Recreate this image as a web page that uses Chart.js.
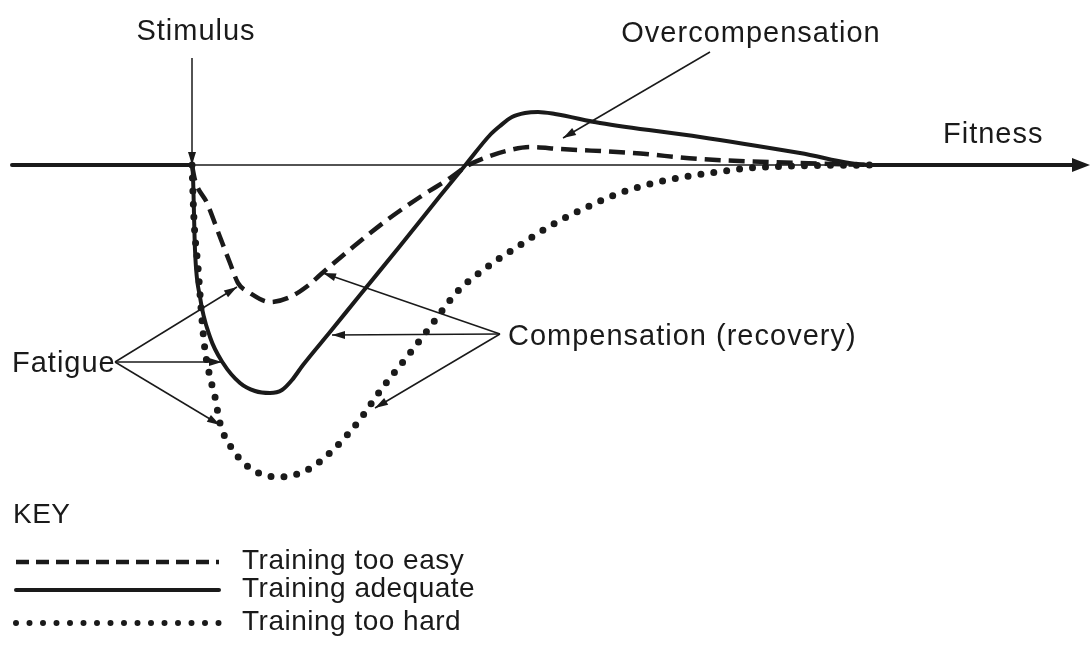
<!DOCTYPE html>
<html>
<head>
<meta charset="utf-8">
<script src="https://cdn.jsdelivr.net/npm/chart.js@4/dist/chart.umd.min.js"></script>
<style>
  html, body { margin: 0; padding: 0; background: #fff; }
  #wrap { width: 1092px; height: 646px; }
</style>
</head>
<body>
<div id="wrap"><canvas id="fitnessChart" width="1092" height="646"></canvas></div>
<script>
// --- data: x = time (arbitrary units), y = fitness relative to the starting level ---
const seriesNames = ['Training adequate', 'Training too easy', 'Training too hard'];

const trainingAdequate = [
    [1.2, 0], [19.2, 0], [19.3, -1.2], [19.5, -8.5], [20.0, -13.2], [21.0, -17.2],
    [22.3, -19.8], [24.0, -21.8], [25.5, -22.6], [27.0, -22.8], [28.2, -22.5],
    [29.2, -21.5], [30.3, -20.0], [33.0, -16.7], [36.0, -13.0], [40.0, -8.1],
    [44.0, -3.1], [46.7, 0.2], [49.0, 3.0], [50.0, 3.9], [51.2, 4.8], [52.5, 5.2],
    [53.8, 5.3], [55.5, 5.1], [60.0, 4.2], [70.0, 2.8], [80.0, 1.2], [87.0, 0], [108.0, 0]
];

const trainingTooEasy = [
    [19.2, 0], [19.5, -1.5], [20.7, -3.8], [22.0, -7.2], [23.0, -9.8], [23.8, -11.8],
    [25.0, -12.8], [27.0, -13.7], [29.0, -13.2], [31.0, -11.9], [32.0, -11.0],
    [35.3, -8.2], [38.7, -5.5], [42.0, -3.2], [45.0, -1.3], [46.7, -0.1], [48.7, 0.8],
    [51.0, 1.5], [53.0, 1.8], [56.0, 1.6], [63.3, 1.2], [70.0, 0.6], [80.0, 0.2], [87.0, 0]
];

const trainingTooHard = [
    [19.2, 0], [19.4, -5.5], [19.8, -10.2], [20.2, -15.5], [20.5, -18.5], [21.0, -21.2],
    [21.5, -23.2], [22.0, -25.8], [23.3, -28.5], [25.3, -30.5], [28.0, -31.2],
    [30.7, -30.5], [33.3, -28.5], [35.8, -25.7], [38.3, -22.2], [40.7, -19.2],
    [43.3, -15.8], [45.7, -12.7], [48.3, -10.5], [51.7, -8.2], [55.0, -6.1],
    [58.3, -4.4], [61.7, -2.9], [65.0, -1.9], [68.3, -1.2], [71.7, -0.7],
    [75.0, -0.3], [79.0, -0.1], [87.0, 0]
];

const fitnessAxis = [[1.2, 0], [108.0, 0]];

// --- annotations (in data units) ---
const labels = [
    { text: 'Stimulus', x: 19.6, y: 12.5, align: 'center' },
    { text: 'Overcompensation', x: 75.1, y: 12.3, align: 'center' },
    { text: 'Fitness', x: 94.3, y: 2.2, align: 'left' },
    { text: 'Fatigue', x: 1.2, y: -20.7, align: 'left' },
    { text: 'Compensation (recovery)', x: 50.8, y: -18.0, align: 'left' }
];

const arrows = [
    // stimulus
    { from: [19.2, 10.7], to: [19.2, 0] },
    // overcompensation
    { from: [71.0, 11.3], to: [56.3, 2.7] },
    // fatigue
    { from: [11.5, -19.7], to: [23.7, -12.2] },
    { from: [11.5, -19.7], to: [22.2, -19.7] },
    { from: [11.5, -19.7], to: [22.0, -26.0] },
    // compensation
    { from: [50.0, -16.9], to: [32.3, -10.8] },
    { from: [50.0, -16.9], to: [33.2, -17.0] },
    { from: [50.0, -16.9], to: [37.5, -24.3] }
];

const toXY = pts => pts.map(p => ({ x: p[0], y: p[1] }));
const ink = '#1a1a1a';
const labelFont = '29px "Liberation Sans", Arial, sans-serif';
const keyFont = '28px "Liberation Sans", Arial, sans-serif';

function arrowHead(ctx, x1, y1, x2, y2, len, half) {
    const a = Math.atan2(y2 - y1, x2 - x1);
    ctx.beginPath();
    ctx.moveTo(x2, y2);
    ctx.lineTo(x2 - len * Math.cos(a) + half * Math.sin(a), y2 - len * Math.sin(a) - half * Math.cos(a));
    ctx.lineTo(x2 - len * Math.cos(a) - half * Math.sin(a), y2 - len * Math.sin(a) + half * Math.cos(a));
    ctx.closePath();
    ctx.fill();
}

// draws labels, arrows and the KEY
const diagramPlugin = {
    id: 'diagram',
    afterDatasetsDraw(chart) {
        const ctx = chart.ctx;
        const xs = chart.scales.x, ys = chart.scales.y;
        const px = v => xs.getPixelForValue(v), py = v => ys.getPixelForValue(v);
        ctx.save();
        ctx.strokeStyle = ink;
        ctx.fillStyle = ink;

        // arrow at the end of the fitness axis
        const axEnd = fitnessAxis[fitnessAxis.length - 1];
        arrowHead(ctx, px(axEnd[0]) - 20, py(axEnd[1]), px(axEnd[0]) + 10, py(axEnd[1]), 18, 7);

        // annotation arrows
        ctx.lineWidth = 1.5;
        arrows.forEach(a => {
            const x1 = px(a.from[0]), y1 = py(a.from[1]);
            const x2 = px(a.to[0]), y2 = py(a.to[1]);
            ctx.beginPath();
            ctx.moveTo(x1, y1);
            ctx.lineTo(x2, y2);
            ctx.stroke();
            arrowHead(ctx, x1, y1, x2, y2, 13, 4);
        });

        // labels
        ctx.font = labelFont;
        ctx.letterSpacing = '1px';
        ctx.textBaseline = 'alphabetic';
        labels.forEach(l => {
            ctx.textAlign = l.align;
            ctx.fillText(l.text, px(l.x), py(l.y));
        });

        // KEY
        ctx.font = keyFont;
        ctx.letterSpacing = '0.5px';
        ctx.textAlign = 'left';
        ctx.fillText('KEY', 13, 523);
        const rows = [
            { ds: chart.data.datasets[1], y: 562, dash: [13, 7], width: 4.5 },
            { ds: chart.data.datasets[0], y: 590, dash: [], width: 4 },
            { ds: chart.data.datasets[2], y: 623, dash: [0, 13.5], width: 6 }
        ];
        rows.forEach(r => {
            ctx.save();
            ctx.lineWidth = r.width;
            ctx.lineCap = r.ds.borderCapStyle || 'butt';
            ctx.setLineDash(r.dash);
            ctx.beginPath();
            ctx.moveTo(16, r.y);
            ctx.lineTo(219, r.y);
            ctx.stroke();
            ctx.restore();
            ctx.textBaseline = 'middle';
            ctx.fillText(r.ds.label, 242, r.y - 1);
        });
        ctx.restore();
    }
};

new Chart(document.getElementById('fitnessChart').getContext('2d'), {
    type: 'line',
    data: {
        datasets: [
            {
                label: seriesNames[0],
                data: toXY(trainingAdequate),
                borderColor: ink,
                borderWidth: 4,
                borderCapStyle: 'round',
                borderJoinStyle: 'round',
                cubicInterpolationMode: 'monotone'
            },
            {
                label: seriesNames[1],
                data: toXY(trainingTooEasy),
                borderColor: ink,
                borderWidth: 4.5,
                borderDash: [16, 8],
                cubicInterpolationMode: 'monotone'
            },
            {
                label: seriesNames[2],
                data: toXY(trainingTooHard),
                borderColor: ink,
                borderWidth: 7,
                borderDash: [0, 13],
                borderCapStyle: 'round',
                cubicInterpolationMode: 'monotone'
            },
            {
                label: 'Fitness',
                data: toXY(fitnessAxis),
                borderColor: ink,
                borderWidth: 1.5
            }
        ]
    },
    options: {
        responsive: false,
        animation: false,
        events: [],
        layout: { padding: 0 },
        elements: { point: { radius: 0 } },
        scales: {
            x: { type: 'linear', min: 0, max: 109.2, display: false },
            y: { type: 'linear', min: -48.1, max: 16.5, display: false }
        },
        plugins: {
            legend: { display: false },
            tooltip: { enabled: false }
        }
    },
    plugins: [diagramPlugin]
});
</script>
</body>
</html>
